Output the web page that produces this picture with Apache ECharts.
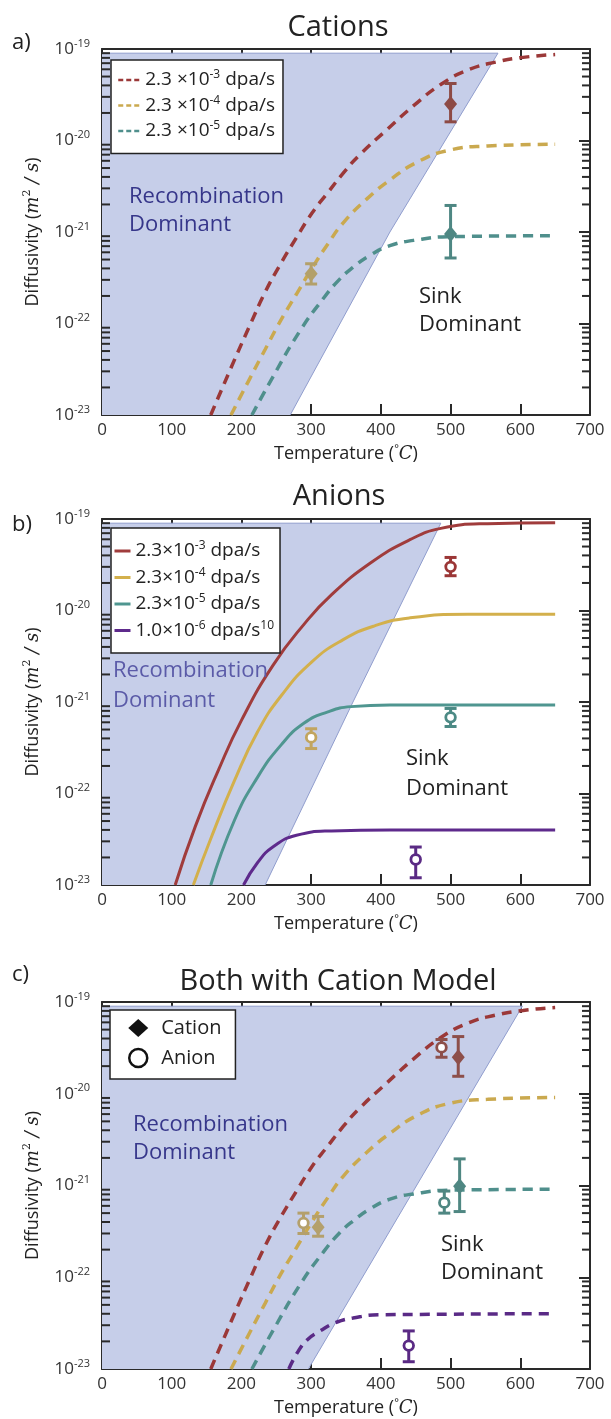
<!DOCTYPE html>
<html>
<head>
<meta charset="utf-8">
<script src="https://cdn.jsdelivr.net/npm/echarts@6/dist/echarts.min.js"></script>
<style>
html, body { margin: 0; padding: 0; background: #fff; }
#chart { width: 611px; height: 1419px; }
</style>
</head>
<body>
<div id="chart"></div>
<script>
// ---- data: temperature (°C), diffusivity (m^2/s) ----

// cation model curves (dashed, panels a and c)
var catRedT = [156, 190, 212, 234, 257, 279, 301, 324, 346, 369, 408, 447, 486, 525, 565, 604, 650];
var catRedD = [1.0e-23, 4.0e-23, 9.5e-23, 2.2e-22, 4.6e-22, 8.7e-22, 1.6e-21, 2.7e-21, 4.4e-21, 6.9e-21, 1.3e-20, 2.4e-20, 4.1e-20, 5.9e-20, 7.2e-20, 8.1e-20, 8.7e-20];
var catYelT = [185, 212, 234, 257, 279, 301, 324, 346, 380, 413, 452, 497, 553, 650];
var catYelD = [1.0e-23, 2.5e-23, 5.2e-23, 1.1e-22, 2.1e-22, 4.0e-22, 7.4e-22, 1.26e-21, 2.3e-21, 3.7e-21, 5.8e-21, 7.8e-21, 8.7e-21, 9.1e-21];
var catTealT = [215, 245, 284, 318, 340, 360, 385, 413, 447, 500, 650];
var catTealD = [1.0e-23, 2.6e-23, 8.3e-23, 1.9e-22, 3.0e-22, 4.1e-22, 5.6e-22, 7.1e-22, 8.1e-22, 8.9e-22, 9.1e-22];
var catPurT = [268, 280, 295, 313, 335, 360, 400, 650];
var catPurD = [1.0e-23, 1.5e-23, 2.1e-23, 2.6e-23, 3.2e-23, 3.6e-23, 3.9e-23, 4.0e-23];

// anion model curves (solid, panel b)
var anRedT = [105, 134, 167, 200, 245, 290, 329, 385, 441, 486, 553, 650];
var anRedD = [1.0e-23, 4.4e-23, 1.8e-22, 6.3e-22, 2.5e-21, 7.1e-21, 1.48e-20, 3.3e-20, 5.9e-20, 7.9e-20, 8.9e-20, 9.1e-20];
var anYelT = [131, 156, 190, 223, 257, 301, 346, 391, 441, 525, 650];
var anYelD = [1.0e-23, 3.2e-23, 1.38e-22, 4.7e-22, 1.17e-21, 2.75e-21, 4.8e-21, 6.8e-21, 8.3e-21, 9.1e-21, 9.1e-21];
var anTealT = [156, 190, 223, 257, 290, 324, 357, 413, 650];
var anTealD = [1.0e-23, 5.1e-23, 1.5e-22, 3.4e-22, 5.9e-22, 7.8e-22, 8.9e-22, 9.3e-22, 9.3e-22];
var anPurT = [203, 223, 245, 279, 329, 413, 650];
var anPurD = [1.0e-23, 1.75e-23, 2.6e-23, 3.5e-23, 3.9e-23, 4.0e-23, 4.0e-23];

// recombination-dominant region boundary
var shadeAT = [0, 568, 413, 270];
var shadeAD = [9e-20, 9e-20, 1e-21, 1e-23];
var shadeBT = [0, 486, 360, 234];
var shadeBD = [9e-20, 9e-20, 1e-21, 1e-23];
var shadeCT = [0, 603, 296];
var shadeCD = [9e-20, 9e-20, 1e-23];

// measured points: [T, D, D low, D high]
var cationPtsA = [[500, 2.5e-20, 1.6e-20, 4.2e-20], [300, 3.5e-22, 2.7e-22, 4.5e-22], [500, 9.5e-22, 5.2e-22, 1.95e-21]];
var anionPtsB = [[500, 3.0e-20, 2.4e-20, 3.8e-20], [300, 4.1e-22, 3.1e-22, 5.1e-22], [500, 6.8e-22, 5.4e-22, 8.5e-22], [450, 1.9e-23, 1.2e-23, 2.6e-23]];
var cationPtsC = [[511, 2.5e-20, 1.55e-20, 4.2e-20], [310, 3.5e-22, 2.8e-22, 4.6e-22], [513, 9.8e-22, 5.2e-22, 1.95e-21]];
var anionPtsC = [[487, 3.2e-20, 2.5e-20, 3.9e-20], [289, 3.9e-22, 3.0e-22, 5.0e-22], [491, 6.5e-22, 5.0e-22, 8.7e-22], [440, 1.8e-23, 1.2e-23, 2.6e-23]];

// legend text
var rateMant = ['2.3×10', '2.3×10', '2.3×10', '1.0×10'];
var rateExp = ['-3', '-4', '-5', '-6'];

// ---- styling ----
var FONT = "'Open Sans', 'Noto Sans', sans-serif";
var AX = '#2a2a2a';
var SHADE = '#c6cee9';
var RED = '#9b3838', YEL = '#caa94f', TEAL = '#4f8f8c', PUR = '#5a2a86';
var RED_B = '#a03c3c', YEL_B = '#d3b04c', TEAL_B = '#4f9690', PUR_B = '#5e2a8c';
var ptColA = ['#8d4a45', '#b3a06a', '#4e8783'];
var ptColB = ['#9b3636', '#c2a55f', '#4c8a85', '#5a2a84'];
var ptColC = ['#8d4f4a', '#b4a06c', '#4f8782', '#5a2a84'];

var grids = [
  { left: 102, top: 49, width: 488, height: 366 },
  { left: 102, top: 519, width: 488, height: 366 },
  { left: 102, top: 1002, width: 488, height: 367 }
];

// log minor tick positions (2..9 x 10^n), in exponent space
var minorTicks = [];
for (var n = -23; n < -19; n++) {
  for (var k = 2; k <= 9; k++) minorTicks.push(n + Math.log10(k));
}

function lg(ts, ds) {
  return ts.map(function (t, i) { return [t, Math.log10(ds[i])]; });
}
function ptRows(pts) {
  return pts.map(function (p) { return [p[0], Math.log10(p[1]), Math.log10(p[2]), Math.log10(p[3])]; });
}

function xAxes(g) {
  var common = {
    gridIndex: g, type: 'value', min: 0, max: 700, interval: 100,
    axisLine: { onZero: false, lineStyle: { color: AX, width: 2 } },
    axisTick: { inside: true, length: 11, lineStyle: { color: AX, width: 2 } },
    splitLine: { show: false }
  };
  return [
    Object.assign({}, common, {
      position: 'bottom',
      axisLabel: { fontSize: 17, color: '#333', margin: 7, fontFamily: FONT },
      name: 'Temperature ({d|°}{c|C})', nameLocation: 'middle', nameGap: 28,
      nameTextStyle: {
        fontSize: 18, color: '#222', fontFamily: FONT,
        rich: {
          d: { fontSize: 11, verticalAlign: 'top', lineHeight: 12, color: '#222', fontFamily: FONT },
          c: { fontSize: 18, fontStyle: 'italic', fontFamily: "'DejaVu Serif', serif", color: '#222', lineHeight: 22 }
        }
      }
    }),
    Object.assign({}, common, { position: 'top', axisLabel: { show: false } })
  ];
}

function yAxes(g) {
  var common = { gridIndex: g, type: 'value', min: -23, max: -19, interval: 1, splitLine: { show: false } };
  var line = { onZero: false, lineStyle: { color: AX, width: 2 } };
  var major = { inside: true, length: 11, lineStyle: { color: AX, width: 2 } };
  return [
    Object.assign({}, common, {
      position: 'left', axisLine: line, axisTick: major,
      axisLabel: {
        margin: 12,
        formatter: function (v) { return '{b|10}{s|' + v + '}'; },
        rich: {
          b: { fontSize: 17, color: '#333', fontFamily: FONT, lineHeight: 22 },
          s: { fontSize: 11, color: '#333', fontFamily: FONT, lineHeight: 10, verticalAlign: 'top' }
        }
      },
      name: 'Diffusivity ({m|m}{d|2}{m| / s})', nameLocation: 'middle', nameGap: 58,
      nameTextStyle: {
        fontSize: 18, color: '#222', fontFamily: FONT,
        rich: {
          m: { fontSize: 18, fontStyle: 'italic', fontFamily: "'DejaVu Serif', serif", color: '#222', lineHeight: 22 },
          d: { fontSize: 11, fontFamily: "'DejaVu Serif', serif", color: '#222', lineHeight: 10, verticalAlign: 'top' }
        }
      }
    }),
    Object.assign({}, common, { position: 'right', axisLine: line, axisTick: major, axisLabel: { show: false } })
  ];
}

// short inward minor ticks on the left (x = 0) and right (x = 700) frame
function minorTickSeries(g, side) {
  var atX = side === 'left' ? 0 : 700;
  return {
    type: 'scatter', xAxisIndex: 2 * g, yAxisIndex: 2 * g,
    data: minorTicks.map(function (v) { return [atX, v]; }),
    symbol: 'rect', symbolSize: [8, 2], symbolOffset: [side === 'left' ? 4 : -4, 0],
    itemStyle: { color: AX, opacity: 1 }, silent: true, z: 9, clip: false
  };
}

function curve(name, g, ts, ds, color, dashed) {
  return {
    type: 'line', name: name, xAxisIndex: 2 * g, yAxisIndex: 2 * g,
    data: lg(ts, ds), smooth: 0.5, symbol: 'none', silent: true, z: 3,
    lineStyle: { color: color, width: dashed ? 3.5 : 3, type: dashed ? [10, 7] : 'solid' },
    itemStyle: { color: color }
  };
}

function shade(g, ts, ds) {
  return {
    type: 'line', xAxisIndex: 2 * g, yAxisIndex: 2 * g, data: lg(ts, ds),
    symbol: 'none', silent: true, z: 1,
    lineStyle: { color: '#909dcd', width: 1 },
    areaStyle: { color: SHADE, opacity: 1, origin: 'start' }
  };
}

function points(name, g, pts, colors, kind) {
  return {
    type: 'custom', name: name, coordinateSystem: 'cartesian2d',
    xAxisIndex: 2 * g, yAxisIndex: 2 * g, data: ptRows(pts), z: 5, silent: true,
    renderItem: function (params, api) {
      var c = colors[params.dataIndex];
      var p = api.coord([api.value(0), api.value(1)]);
      var lo = api.coord([api.value(0), api.value(2)]);
      var hi = api.coord([api.value(0), api.value(3)]);
      var cap = 6;
      var st = { stroke: c, lineWidth: 3 };
      var kids = [
        { type: 'line', shape: { x1: p[0], y1: lo[1], x2: p[0], y2: hi[1] }, style: st },
        { type: 'line', shape: { x1: p[0] - cap, y1: lo[1], x2: p[0] + cap, y2: lo[1] }, style: st },
        { type: 'line', shape: { x1: p[0] - cap, y1: hi[1], x2: p[0] + cap, y2: hi[1] }, style: st }
      ];
      if (kind === 'diamond') {
        kids.push({ type: 'polygon', shape: { points: [[p[0], p[1] - 8], [p[0] + 6.5, p[1]], [p[0], p[1] + 8], [p[0] - 6.5, p[1]]] }, style: { fill: c } });
      } else {
        kids.push({ type: 'circle', shape: { cx: p[0], cy: p[1], r: 4.8 }, style: { fill: '#fff', stroke: c, lineWidth: 2.8 } });
      }
      return { type: 'group', children: kids };
    }
  };
}

function fmtRate(name) {
  var i = +name.slice(1);
  var mant = name.charAt(0) === 'a' ? '2.3 ×10' : rateMant[i];
  var s = '{t|' + mant + '}{s|' + rateExp[i] + '}{t| dpa/s}';
  if (name === 'b3') s += '{s|10}';
  return s;
}

var legendText = {
  fontSize: 19, color: '#222', fontFamily: FONT,
  rich: {
    t: { fontSize: 19, color: '#222', fontFamily: FONT, lineHeight: 22 },
    s: { fontSize: 12, color: '#222', fontFamily: FONT, lineHeight: 10, verticalAlign: 'top' }
  }
};

function txt(x, y, text, size, color, align, vAlign, lh) {
  return {
    type: 'text', x: x, y: y, z: 50, silent: true,
    style: {
      text: text, fontSize: size, fontFamily: FONT, fill: color,
      align: align, textAlign: align, verticalAlign: vAlign, textVerticalAlign: vAlign,
      lineHeight: lh || size * 1.3
    }
  };
}

var xs = [].concat(xAxes(0), xAxes(1), xAxes(2));
var ys = [].concat(yAxes(0), yAxes(1), yAxes(2));

var series = [
  shade(0, shadeAT, shadeAD),
  curve('a0', 0, catRedT, catRedD, RED, true),
  curve('a1', 0, catYelT, catYelD, YEL, true),
  curve('a2', 0, catTealT, catTealD, TEAL, true),
  points('aPts', 0, cationPtsA, ptColA, 'diamond'),

  shade(1, shadeBT, shadeBD),
  curve('b0', 1, anRedT, anRedD, RED_B, false),
  curve('b1', 1, anYelT, anYelD, YEL_B, false),
  curve('b2', 1, anTealT, anTealD, TEAL_B, false),
  curve('b3', 1, anPurT, anPurD, PUR_B, false),
  points('bPts', 1, anionPtsB, ptColB, 'circle'),

  shade(2, shadeCT, shadeCD),
  curve('c0', 2, catRedT, catRedD, RED, true),
  curve('c1', 2, catYelT, catYelD, YEL, true),
  curve('c2', 2, catTealT, catTealD, TEAL, true),
  curve('c3', 2, catPurT, catPurD, PUR, true),
  points('Anion', 2, anionPtsC, ptColC, 'circle'),
  points('Cation', 2, cationPtsC, ptColC, 'diamond')
];
for (var gi = 0; gi < 3; gi++) {
  series.push(minorTickSeries(gi, 'left'), minorTickSeries(gi, 'right'));
}

var legendBox = { orient: 'vertical', backgroundColor: '#fff', borderColor: '#222', borderWidth: 1.5, borderRadius: 0, selectedMode: false, z: 8 };
var hideSymbol = { color: 'rgba(0,0,0,0)', borderWidth: 0, opacity: 0 };

var option = {
  animation: false,
  backgroundColor: '#fff',
  grid: grids,
  xAxis: xs,
  yAxis: ys,
  legend: [
    Object.assign({}, legendBox, {
      left: 111, top: 60, data: ['a0', 'a1', 'a2'], formatter: fmtRate,
      itemWidth: 22, itemHeight: 10, itemGap: 5, padding: [9, 8, 13, 6],
      itemStyle: hideSymbol,
      lineStyle: { type: [5, 3], width: 2.5 },
      textStyle: Object.assign({ width: 134 }, legendText)
    }),
    Object.assign({}, legendBox, {
      left: 111, top: 528, data: ['b0', 'b1', 'b2', 'b3'], formatter: fmtRate,
      itemWidth: 16, itemHeight: 10, itemGap: 6, padding: [12, 6, 13, 2],
      itemStyle: hideSymbol,
      lineStyle: { width: 3 },
      textStyle: Object.assign({ width: 140 }, legendText)
    }),
    Object.assign({}, legendBox, {
      left: 110, top: 1010,
      data: [
        { name: 'Cation', icon: 'diamond', itemStyle: { color: '#111', borderWidth: 0 } },
        { name: 'Anion', icon: 'circle', itemStyle: { color: '#fff', borderColor: '#111', borderWidth: 2.5 } }
      ],
      itemWidth: 20, itemHeight: 18, itemGap: 6, padding: [6, 14, 9, 18],
      textStyle: { fontSize: 20, color: '#222', fontFamily: FONT, lineHeight: 24, padding: [0, 0, 0, 8] }
    })
  ],
  graphic: { elements: [
    txt(338, 28, 'Cations', 29, '#222', 'center', 'middle'),
    txt(339, 497, 'Anions', 29, '#222', 'center', 'middle'),
    txt(338, 982, 'Both with Cation Model', 29, '#222', 'center', 'middle'),
    txt(12, 43, 'a)', 22, '#222', 'left', 'middle'),
    txt(12, 525, 'b)', 22, '#222', 'left', 'middle'),
    txt(12, 975, 'c)', 22, '#222', 'left', 'middle'),
    txt(129, 183, 'Recombination\nDominant', 22, '#36368a', 'left', 'top', 28),
    txt(419, 283, 'Sink\nDominant', 22, '#222', 'left', 'top', 28),
    txt(113, 656, 'Recombination\nDominant', 22, '#5b5ba8', 'left', 'top', 30),
    txt(406, 744, 'Sink\nDominant', 22, '#222', 'left', 'top', 30),
    txt(133, 1111, 'Recombination\nDominant', 22, '#37378b', 'left', 'top', 28),
    txt(441, 1231, 'Sink\nDominant', 22, '#222', 'left', 'top', 28)
  ] },
  series: series
};

var chart = echarts.init(document.getElementById('chart'), null, { renderer: 'canvas' });
chart.setOption(option);
</script>
</body>
</html>
